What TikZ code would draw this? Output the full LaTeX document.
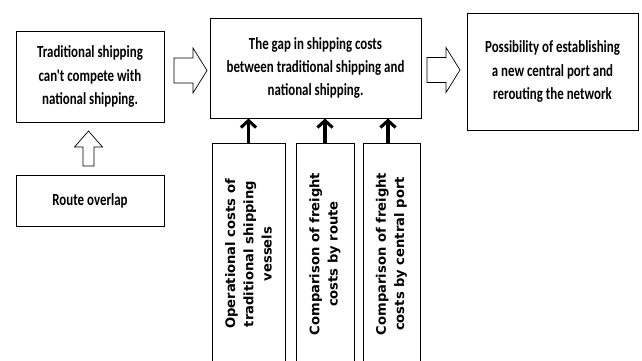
\documentclass[tikz,border=0pt]{standalone}
\usepackage{fontspec}
\newfontfamily\boxfont[FakeStretch=0.76]{Carlito}
\newfontfamily\sidefont{DejaVu Sans}
\usetikzlibrary{arrows.meta}

\tikzset{
	pics/blockright/.style={code={\draw[hollow] (0,-12.5) -- (19,-12.5) -- (19,-22.5) -- (33,0) -- (19,22.5) -- (19,12.5) -- (0,12.5) -- cycle;}},
	pics/blockup/.style={code={\draw[hollow] (-5.5,0) -- (-5.5,-19) -- (-14,-19) -- (0,-35) -- (14,-19) -- (5.5,-19) -- (5.5,0) -- cycle;}}
}

\begin{document}
\begin{tikzpicture}[x=0.03cm,y=-0.03cm,
	box/.style={draw,line width=0.8pt,align=center,font=\boxfont\bfseries\fontsize{14.5}{20}\selectfont},
	factor/.style={draw,line width=0.8pt,align=center,rotate=90,minimum width=6.66cm,font=\sidefont\bfseries\fontsize{11.2}{15.5}\selectfont},
	hollow/.style={draw,line width=0.6pt,fill=white,line join=miter},
	push/.style={line width=2.6pt,-{Straight Barb[length=6pt,width=13pt]}}]
	\clip (0,0) rectangle (642,360);

	\node (trad) at (90,76.5) [box,minimum width=4.44cm,minimum height=2.73cm] {Traditional shipping\\can\char39 t compete with\\national shipping.};
	\node (overlap) at (90,200.5) [box,minimum width=4.44cm,minimum height=1.53cm] {Route overlap};
	\node (gap) at (315.5,68) [box,minimum width=6.33cm,minimum height=3cm] {The gap in shipping costs\\between traditional shipping and\\national shipping.};
	\node (newport) at (552.5,71.5) [box,minimum width=5.13cm,minimum height=3.51cm] {Possibility of establishing\\a new central port and\\rerouting the network};

	\node (opcost) at (248.5,254) [factor,minimum height=2.19cm] {Operational costs of\\traditional shipping\\vessels};
	\node (routecmp) at (325,254) [factor,minimum height=1.74cm] {Comparison of freight\\costs by route};
	\node (portcmp) at (391.5,254) [factor,minimum height=1.71cm] {Comparison of freight\\costs by central port};

	\pic at (174,70.5) {blockright};
	\pic at (427,70) {blockright};
	\pic at (88.5,166) {blockup};

	\draw[push] (opcost.east) -- (opcost.east |- gap.south);
	\draw[push] (routecmp.east) -- (routecmp.east |- gap.south);
	\draw[push] ([xshift=-0.105cm]portcmp.east) -- ([xshift=-0.105cm]portcmp.east |- gap.south);
\end{tikzpicture}
\end{document}
